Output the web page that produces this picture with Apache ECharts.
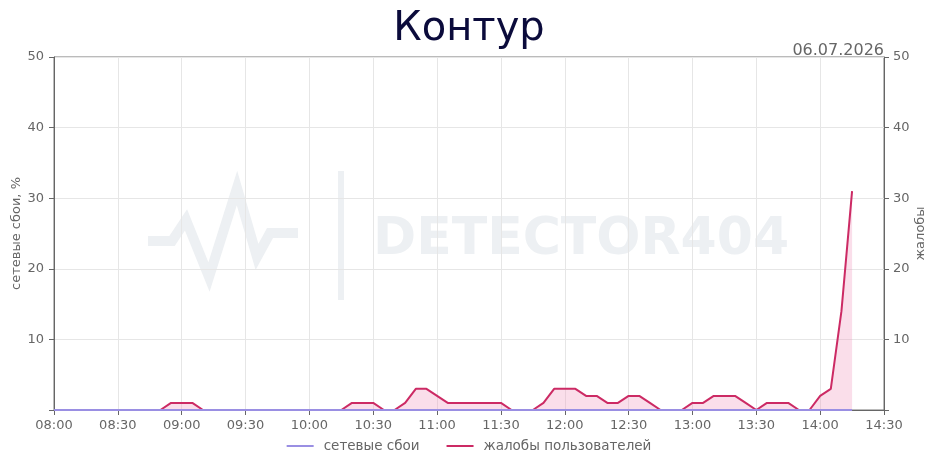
<!DOCTYPE html>
<html>
<head>
<meta charset="utf-8">
<script src="https://cdn.jsdelivr.net/npm/echarts@6/dist/echarts.min.js"></script>
<style>html,body{margin:0;padding:0;background:#fff}#c{width:938px;height:468px}</style>
</head>
<body>
<div id="c"></div>
<script>
var titleText = 'Контур';
var dateText = '06.07.2026';
var leftAxisName = 'сетевые сбои, %';
var rightAxisName = 'жалобы';
var seriesNames = ['сетевые сбои', 'жалобы пользователей'];

var times = [
 '08:00','08:05','08:10','08:15','08:20','08:25','08:30','08:35','08:40','08:45','08:50','08:55',
 '09:00','09:05','09:10','09:15','09:20','09:25','09:30','09:35','09:40','09:45','09:50','09:55',
 '10:00','10:05','10:10','10:15','10:20','10:25','10:30','10:35','10:40','10:45','10:50','10:55',
 '11:00','11:05','11:10','11:15','11:20','11:25','11:30','11:35','11:40','11:45','11:50','11:55',
 '12:00','12:05','12:10','12:15','12:20','12:25','12:30','12:35','12:40','12:45','12:50','12:55',
 '13:00','13:05','13:10','13:15','13:20','13:25','13:30','13:35','13:40','13:45','13:50','13:55',
 '14:00','14:05','14:10','14:15','14:20','14:25','14:30'
];

var network = [
 0,0,0,0,0,0,0,0,0,0,0,0,
 0,0,0,0,0,0,0,0,0,0,0,0,
 0,0,0,0,0,0,0,0,0,0,0,0,
 0,0,0,0,0,0,0,0,0,0,0,0,
 0,0,0,0,0,0,0,0,0,0,0,0,
 0,0,0,0,0,0,0,0,0,0,0,0,
 0,0,0,0
];

var complaints = [
 0,0,0,0,0,0,0,0,0,0,0,1,
 1,1,0,0,0,0,0,0,0,0,0,0,
 0,0,0,0,1,1,1,0,0,1,3,3,
 2,1,1,1,1,1,1,0,0,0,1,3,
 3,3,2,2,1,1,2,2,1,0,0,0,
 1,1,2,2,2,1,0,1,1,1,0,0,
 2,3,14,31
];

var yTicks = [0, 10, 20, 30, 40, 50];

var chart = echarts.init(document.getElementById('c'));
var gray = '#666666';
var font = 'DejaVu Sans';
var wm = '#edf0f3';
chart.setOption({
  animation: false,
  backgroundColor: '#ffffff',
  title: [
    { text: titleText, left: 'center', top: 5,
      textStyle: { fontFamily: font, fontSize: 40, fontWeight: 'normal', color: '#0b0b3b' } },
    { text: dateText, right: 49, top: 38,
      textStyle: { fontFamily: font, fontSize: 16, fontWeight: 'normal', color: gray } }
  ],
  graphic: [
    { type: 'polyline', z: -10, silent: true,
      shape: { points: [[148,241],[172,241],[186,220],[209,277],[237,188],[257,257],[270,233],[298,233]] },
      style: { stroke: wm, lineWidth: 10, fill: null, lineJoin: 'miter' } },
    { type: 'rect', z: -10, silent: true,
      shape: { x: 338, y: 171, width: 6, height: 129 },
      style: { fill: wm } },
    { type: 'text', z: -10, silent: true, left: 373, top: 214,
      style: { text: 'DETECTOR404', fill: wm, font: 'bold 52px "DejaVu Sans"' } }
  ],
  legend: {
    bottom: 10, left: 'center', itemWidth: 27, itemHeight: 2, itemGap: 27, icon: 'rect',
    textStyle: { fontFamily: font, fontSize: 13.5, color: gray, padding: [0, 0, 0, 5] },
    data: seriesNames
  },
  grid: { left: 54, right: 54, top: 57, bottom: 58, show: true, borderColor: '#777', borderWidth: 1,
    outerBoundsMode: 'none', containLabel: false },
  xAxis: {
    type: 'category', data: times, boundaryGap: false,
    axisLine: { lineStyle: { color: gray } },
    axisTick: { interval: 5, length: 5, lineStyle: { color: gray } },
    axisLabel: { interval: 5, color: gray, fontFamily: font, fontSize: 13, margin: 9 },
    splitLine: { show: true, interval: 5, lineStyle: { color: '#e6e6e6' } }
  },
  yAxis: [
    { type: 'value', min: 0, max: 50, interval: 10, position: 'left',
      name: leftAxisName, nameLocation: 'middle', nameGap: 31, nameMoveOverlap: false,
      nameTextStyle: { fontFamily: font, fontSize: 13, color: gray },
      axisLine: { show: true, lineStyle: { color: gray } },
      axisTick: { show: true, length: 5, lineStyle: { color: gray } },
      axisLabel: { color: gray, fontFamily: font, fontSize: 13, margin: 10,
        formatter: function (v) { return v === yTicks[0] ? '' : String(v); } },
      splitLine: { show: true, lineStyle: { color: '#e6e6e6' } } },
    { type: 'value', min: 0, max: 50, interval: 10, position: 'right',
      name: rightAxisName, nameLocation: 'middle', nameGap: 30, nameRotate: 90, nameMoveOverlap: false,
      nameTextStyle: { fontFamily: font, fontSize: 13, color: gray },
      axisLine: { show: true, lineStyle: { color: gray } },
      axisTick: { show: true, length: 5, lineStyle: { color: gray } },
      axisLabel: { color: gray, fontFamily: font, fontSize: 13, margin: 9,
        formatter: function (v) { return v === yTicks[0] ? '' : String(v); } },
      splitLine: { show: false } }
  ],
  series: [
    { name: seriesNames[0], type: 'line', yAxisIndex: 0, data: network,
      symbol: 'none', lineStyle: { color: '#9a8fe3', width: 2 }, itemStyle: { color: '#9a8fe3' }, z: 3 },
    { name: seriesNames[1], type: 'line', yAxisIndex: 1, data: complaints,
      symbol: 'none', lineStyle: { color: '#cc2a64', width: 2 }, itemStyle: { color: '#cc2a64' },
      areaStyle: { color: 'rgba(240,150,190,0.45)', origin: 'start' }, z: 2 }
  ]
});
</script>
</body>
</html>
